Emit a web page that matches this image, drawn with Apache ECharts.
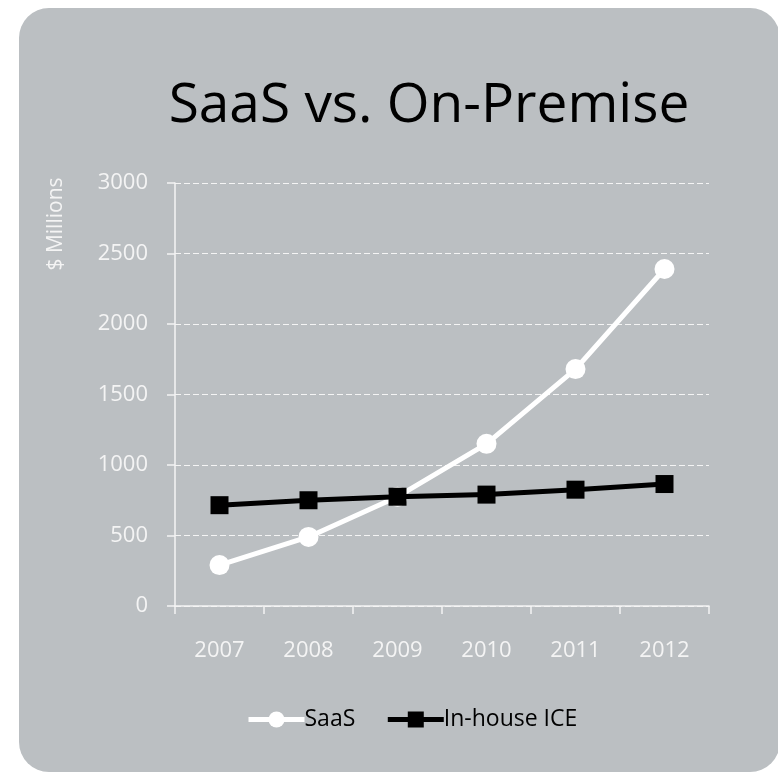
<!DOCTYPE html>
<html>
<head>
<meta charset="utf-8">
<script src="https://cdn.jsdelivr.net/npm/echarts@6/dist/echarts.min.js"></script>
<style>
html,body{margin:0;padding:0;background:#ffffff;}
#chart{width:778px;height:773px;}
</style>
</head>
<body>
<div id="chart"></div>
<script>
var years = ['2007','2008','2009','2010','2011','2012'];
var saas = [290, 490, 775, 1150, 1680, 2390];
var inhouse = [715, 750, 775, 790, 825, 865];
var yTicks = [0, 500, 1000, 1500, 2000, 2500, 3000];

var FONT = '"Open Sans", sans-serif';
var chart = echarts.init(document.getElementById('chart'));
chart.setOption({
  backgroundColor: '#ffffff',
  animation: false,
  graphic: [
    {type: 'rect', z: -10, shape: {x: 19, y: 8, width: 761, height: 764, r: 30},
     style: {fill: '#bbbfc2'}},
    {type: 'text', z: 10, x: 429, y: 106,
     style: {text: 'SaaS vs. On-Premise', align: 'center', verticalAlign: 'middle',
             font: '55px ' + FONT, fill: '#000000'}},
    {type: 'text', z: 10, x: 56, y: 224, rotation: Math.PI / 2,
     style: {text: '$ Millions', align: 'center', verticalAlign: 'middle',
             font: '21px ' + FONT, fill: '#f4f4f4'}}
  ],
  grid: {left: 175, right: 69, top: 183, bottom: 167},
  legend: {
    bottom: 37, left: 241, itemGap: 30, itemWidth: 56, itemHeight: 20,
    lineStyle: {width: 5},
    textStyle: {fontFamily: FONT, fontSize: 23, color: '#000000', padding: [0, 0, 0, -5]},
    data: ['SaaS', 'In-house ICE']
  },
  xAxis: {
    type: 'category', data: years, boundaryGap: true,
    axisLine: {lineStyle: {color: '#f4f4f4', width: 1.5}},
    axisTick: {show: true, length: 8, lineStyle: {color: '#f4f4f4', width: 1.5}},
    axisLabel: {color: '#f4f4f4', fontFamily: FONT, fontSize: 22, margin: 34}
  },
  yAxis: {
    type: 'value', min: 0, max: 3000, interval: 500,
    axisLine: {show: true, lineStyle: {color: '#f4f4f4', width: 1.5}},
    axisTick: {show: true, length: 8, lineStyle: {color: '#f4f4f4', width: 1.5}},
    splitLine: {show: true, lineStyle: {color: '#f4f4f4', type: [6, 3], width: 1.2}},
    axisLabel: {color: '#f4f4f4', fontFamily: FONT, fontSize: 22, margin: 27,
      formatter: function (v) { return yTicks.indexOf(v) >= 0 ? String(v) : ''; }}
  },
  series: [
    {name: 'SaaS', type: 'line', data: saas, symbol: 'circle', symbolSize: 20,
     lineStyle: {color: '#ffffff', width: 5}, itemStyle: {color: '#ffffff'}, z: 3},
    {name: 'In-house ICE', type: 'line', data: inhouse, symbol: 'rect', symbolSize: 18,
     lineStyle: {color: '#000000', width: 5}, itemStyle: {color: '#000000'}, z: 4}
  ]
});
</script>
</body>
</html>
